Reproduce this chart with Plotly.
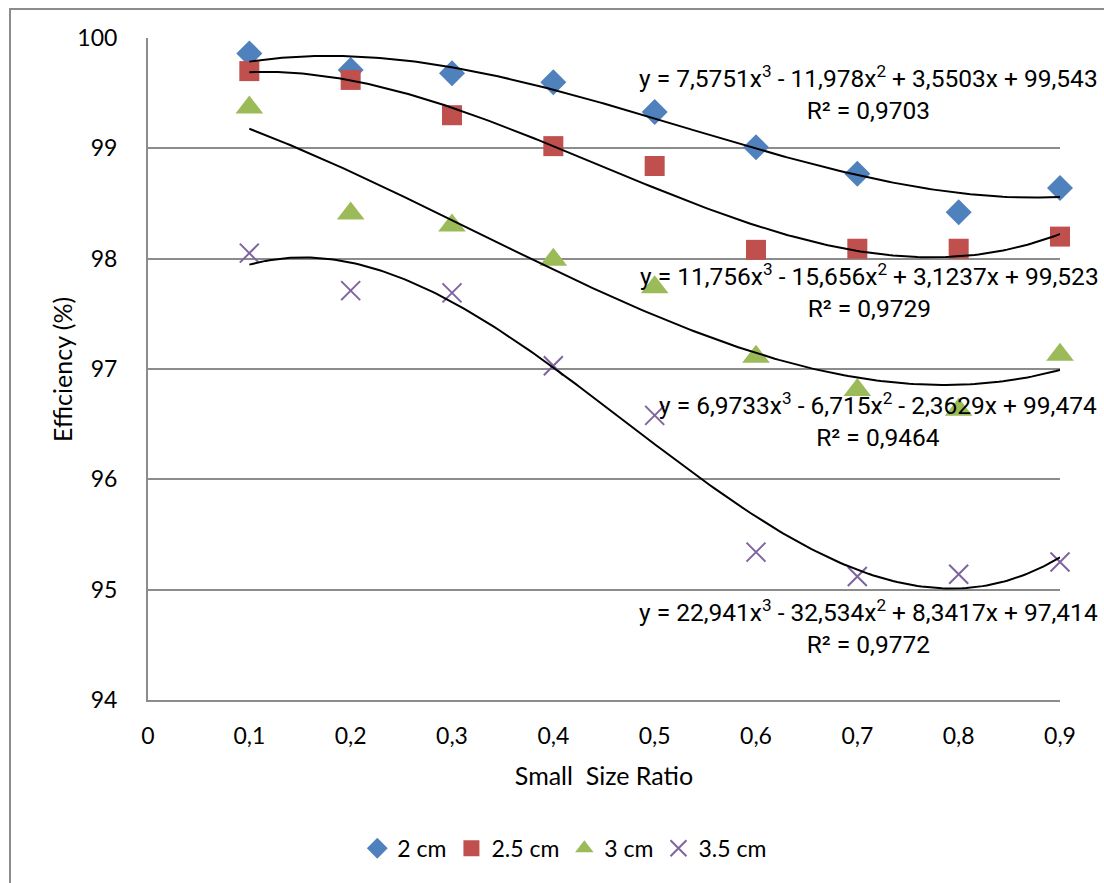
import numpy as np
import plotly.graph_objects as go

# Small size ratio (x) and efficiency (%) per particle size
ratio = [0.1, 0.2, 0.3, 0.4, 0.5, 0.6, 0.7, 0.8, 0.9]
eff_2cm = [99.86, 99.71, 99.68, 99.60, 99.33, 99.01, 98.77, 98.42, 98.64]
eff_25cm = [99.70, 99.62, 99.30, 99.02, 98.84, 98.08, 98.09, 98.09, 98.20]
eff_3cm = [99.37, 98.41, 98.30, 97.99, 97.74, 97.11, 96.81, 96.63, 97.13]
eff_35cm = [98.05, 97.71, 97.69, 97.03, 96.58, 95.34, 95.12, 95.14, 95.25]

series_names = ["2 cm", "2.5 cm", "3 cm", "3.5 cm"]

# Cubic trendline coefficients (a3, a2, a1, a0) and R² for each series
coef_2cm = [7.5751, -11.978, 3.5503, 99.543]
coef_25cm = [11.756, -15.656, 3.1237, 99.523]
coef_3cm = [6.9733, -6.715, -2.3629, 99.474]
coef_35cm = [22.941, -32.534, 8.3417, 97.414]
r2_values = [0.9703, 0.9729, 0.9464, 0.9772]

x_ticks = [0, 0.1, 0.2, 0.3, 0.4, 0.5, 0.6, 0.7, 0.8, 0.9]
x_tick_text = ["0", "0,1", "0,2", "0,3", "0,4", "0,5", "0,6", "0,7", "0,8", "0,9"]
y_ticks = [94, 95, 96, 97, 98, 99, 100]

colors = ["#4F81BD", "#C0504D", "#9BBB59", "#8064A2"]
symbols = ["diamond", "square", "triangle-up", "x-thin"]
sizes = [20, 20, 24, 19]

series = [eff_2cm, eff_25cm, eff_3cm, eff_35cm]
coefs = [coef_2cm, coef_25cm, coef_3cm, coef_35cm]

# Label anchor positions for trendline equations (data coords)
label_x = [0.7115, 0.712, 0.720, 0.711]
label_y = [99.50, 97.71, 96.54, 94.66]

TICK_FONT = dict(family="Lato, 'Open Sans', sans-serif", size=23, color="#000000")
TITLE_FONT = dict(family="Lato, 'Open Sans', sans-serif", size=25, color="#000000")
EQ_FONT = dict(family="Roboto, sans-serif", size=24.5, color="#000000")


def fmt(v):
    return f"{v}".replace(".", ",")


def equation_text(c, r2):
    a3, a2, a1, a0 = c
    parts = [f"y = {fmt(a3)}x<sup>3</sup>"]
    parts.append(f" {'-' if a2 < 0 else '+'} {fmt(abs(a2))}x<sup>2</sup>")
    parts.append(f" {'-' if a1 < 0 else '+'} {fmt(abs(a1))}x")
    parts.append(f" {'-' if a0 < 0 else '+'} {fmt(abs(a0))}")
    return "".join(parts) + f"<br>R² = {fmt(r2)}"


fig = go.Figure()

for name, ys, col, sym, sz in zip(series_names, series, colors, symbols, sizes):
    marker = dict(symbol=sym, size=sz, color=col)
    if sym == "x-thin":
        marker["line"] = dict(color=col, width=2)
    fig.add_trace(go.Scatter(
        x=ratio, y=ys, mode="markers", name=name, marker=marker,
        cliponaxis=False,
    ))

# Polynomial trendlines over the data range
xs = np.linspace(ratio[0], ratio[-1], 200)
for c in coefs:
    fig.add_trace(go.Scatter(
        x=xs, y=np.polyval(c, xs), mode="lines",
        line=dict(color="#000000", width=2), showlegend=False,
        hoverinfo="skip",
    ))

for c, r2, lx, ly in zip(coefs, r2_values, label_x, label_y):
    fig.add_annotation(
        x=lx, y=ly, xref="x", yref="y", text=equation_text(c, r2),
        showarrow=False, font=EQ_FONT, align="center",
        xanchor="center", yanchor="middle",
    )

# Y-axis title
fig.add_annotation(
    x=-0.0943, y=0.5, xref="paper", yref="paper", text="Efficiency (%)",
    textangle=-90, showarrow=False, font=TITLE_FONT,
    xanchor="center", yanchor="middle",
)

# Outer chart frame
fig.add_shape(type="rect", xref="paper", yref="paper",
              x0=-0.1513, x1=1.2, y0=1.0438, y1=-0.5,
              line=dict(color="#8C8C8C", width=2), layer="below")

grid = "#8C8C8C"
fig.update_layout(
    width=1104, height=883,
    margin=dict(l=148, r=44, t=38, b=183),
    plot_bgcolor="#FFFFFF", paper_bgcolor="#FFFFFF",
    font=TICK_FONT,
    xaxis=dict(
        range=[0, 0.9], tickvals=x_ticks, ticktext=x_tick_text,
        showgrid=False, zeroline=False, showline=True, linecolor=grid,
        linewidth=2, ticks="", tickfont=TICK_FONT,
        ticklabelstandoff=14,
        title=dict(text="Small  Size Ratio", font=TITLE_FONT, standoff=20),
    ),
    yaxis=dict(
        range=[94, 100], tickvals=y_ticks, showgrid=True, gridcolor=grid,
        gridwidth=2, zeroline=False, showline=True, linecolor=grid,
        linewidth=2, ticks="", tickfont=TICK_FONT,
        ticklabelstandoff=24,
    ),
    legend=dict(
        orientation="h", x=0.457, y=-0.224, xanchor="center",
        yanchor="middle", font=TICK_FONT, bgcolor="rgba(0,0,0,0)",
        itemwidth=30,
    ),
    showlegend=True,
)

fig.write_html("out.html")
